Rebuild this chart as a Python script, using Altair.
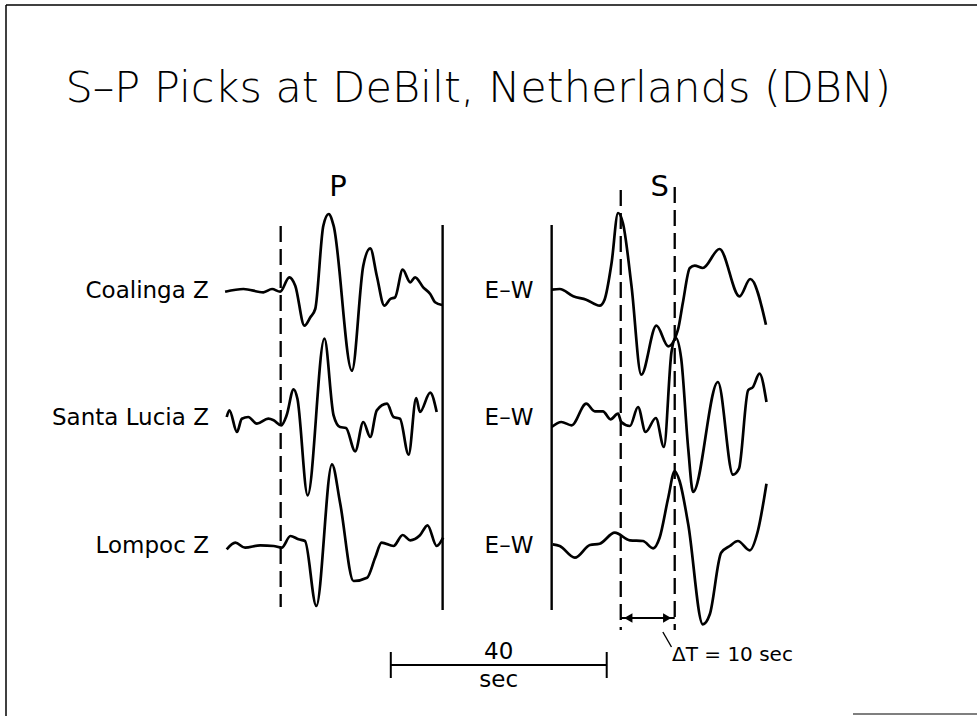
import altair as alt
import pandas as pd

# ---- seismogram samples -------------------------------------------------
# time in seconds after the phase pick, deflection in plot units (up = +)
# vertical (Z) records, aligned on the P pick
coalinga_z_t = [-10.3, -6.9, -3.2, -1.6, -0.1, 1.6, 2.7, 4.4, 5.5, 6.4, 7.9, 8.9, 9.8, 13.2,
                15.3, 16.6, 17.8, 19.2, 20.3, 21.2, 22.6, 24.0, 24.9, 26.4, 27.7, 28.6, 29.9]
coalinga_z_a = [-0.7, 2, -1.3, 2, -0.7, 13.7, 5.3, -34.7, -26.3, -18, 65.3, 77, 65.3, -79.7,
                25.3, 42.7, 15.3, -14.7, -8, -6.3, 21.3, 8.7, 13.7, 3.7, -3, -11.3, -14]

santa_lucia_z_t = [-10.0, -9.5, -8.1, -7.2, -6.0, -4.4, -2.3, -1.3, 0.1, 1.1, 2.4, 3.1, 5.0, 8.1,
                   9.8, 11.0, 12.1, 13.8, 15.3, 16.6, 17.8, 19.7, 20.9, 22.1, 23.7, 25.1, 25.8,
                   27.7, 28.9]
santa_lucia_z_a = [1, 7.7, -14, -0.7, 1, -5.7, -0.7, -2.3, -7.3, 2.7, 28.7, 19.3, -77.3, 79.3,
                   2.7, -9, -10, -33.3, -4, -19, 7.7, 14.3, 1, -0.7, -36.7, 20, 6, 25.3, 6]

lompoc_z_t = [-10.0, -8.4, -6.6, -3.8, -1.3, 0.2, 1.8, 3.3, 4.5, 6.6, 9.5, 11.0, 13.5, 16.0,
              17.5, 18.7, 20.9, 22.6, 24.0, 25.8, 27.2, 28.9, 30.1]
lompoc_z_a = [-3.3, 3.3, -1.7, 0.7, 0, -1.7, 10, 6.7, 5, -60, 81.7, 43.3, -35, -31.7,
              -11.7, 3.3, 0, 11, 5.7, 10.7, 20.7, 0, 8.3]

# horizontal (E-W) records, aligned on the S pick
coalinga_ew_t = [-12.8, -11.3, -8.8, -6.4, -3.9, -3.0, -1.7, -0.5, 0.4, 2.0, 3.8, 6.6, 8.8,
                 10.6, 11.5, 12.8, 13.7, 15.2, 18.3, 22.0, 24.0, 26.9]
coalinga_ew_a = [1.3, 2, -5.3, -8.7, -14.7, -8.7, 28, 78, 68, 4.7, -83.7, -34.7, -55.3,
                 -38.7, -12, 23, 25.3, 23, 42, -5.3, 12, -33.7]

santa_lucia_ew_t = [-12.8, -11.0, -9.1, -6.4, -4.8, -3.3, -1.9, -0.5, 0.1, 1.7, 3.2, 4.6, 6.5,
                    8.0, 9.4, 10.2, 11.2, 12.5, 13.4, 18.0, 20.8, 21.9, 23.6, 24.5, 25.7, 27.0]
santa_lucia_ew_a = [-9, -4, -7.3, 14.3, 6.7, 6.7, -1.3, 4.3, -4, -8, 11, -14, 0,
                    -29, 66, 80, 59.3, -30.7, -74, 36, -56.7, -50.7, 27.7, 31, 44.3, 16]

lompoc_ew_t = [-12.6, -11.3, -8.5, -5.7, -3.9, -1.1, 1.7, 4.1, 6.0, 7.2, 8.8, 10.0, 10.9,
               12.5, 15.2, 16.5, 18.6, 20.2, 21.7, 23.9, 25.4, 27.0]
lompoc_ew_a = [1.7, 0, -11.7, 1, 2.3, 13.3, 5.7, 5, -2.3, 8.3, 48.3, 75, 65,
               21.7, -78.3, -68.3, -6.7, 0, 5, -4.3, 15, 62.3]

stations = ["Coalinga Z", "Santa Lucia Z", "Lompoc Z"]
component = "E\u2013W"
window_z = [0, 30.0]        # P pick and end of the vertical-record window (s)
window_ew_start = -12.8     # start of the horizontal-record window, relative to S pick (s)
s_picks = [0, 10]           # the two S picks; their separation is the S-P anomaly
delta_t_label = "\u0394T = 10 sec"
scale_bar_seconds = 40

# ---- layout -------------------------------------------------------------
row_y = [291, 418, 546]     # baseline of each station row (px from top)
ew_shift = 63               # where the E-W panel sits on the shared time axis (s)
bar_start = 20.4            # left end of the time scale bar (s)

records = [
    (stations[0], "Z", coalinga_z_t, coalinga_z_a, 0),
    (stations[1], "Z", santa_lucia_z_t, santa_lucia_z_a, 1),
    (stations[2], "Z", lompoc_z_t, lompoc_z_a, 2),
    (stations[0], "EW", coalinga_ew_t, coalinga_ew_a, 0),
    (stations[1], "EW", santa_lucia_ew_t, santa_lucia_ew_a, 1),
    (stations[2], "EW", lompoc_ew_t, lompoc_ew_a, 2),
]
rows = []
for name, comp, ts, amps, r in records:
    shift = 0 if comp == "Z" else ew_shift
    for t, a in zip(ts, amps):
        rows.append({"trace": f"{name}-{comp}", "x": t + shift, "y": row_y[r] - a})
traces = pd.DataFrame(rows)

X = alt.Scale(domain=[-52, 129], nice=False, zero=False)
Y = alt.Scale(domain=[0, 716], reverse=True, nice=False, zero=False)


def xe(field="x"):
    return alt.X(f"{field}:Q", scale=X, axis=None)


def ye(field="y"):
    return alt.Y(f"{field}:Q", scale=Y, axis=None)


ink = "#000000"

trace_layer = alt.Chart(traces).mark_line(
    color=ink, strokeWidth=2.7, interpolate="monotone", strokeJoin="round"
).encode(x=xe(), y=ye(), detail="trace:N")

# window edges (solid) and phase picks (dashed)
solid_lines = pd.DataFrame({
    "x": [window_z[1], ew_shift + window_ew_start],
    "y": [225, 225], "y2": [610, 610],
})
dashed_lines = pd.DataFrame({
    "x": [window_z[0], ew_shift + s_picks[0], ew_shift + s_picks[1]],
    "y": [226, 190, 187], "y2": [607, 630, 630],
})
solid_layer = alt.Chart(solid_lines).mark_rule(color=ink, strokeWidth=2.4).encode(
    x=xe(), y=ye(), y2="y2:Q")
dashed_layer = alt.Chart(dashed_lines).mark_rule(
    color=ink, strokeWidth=2.3, strokeDash=[16, 7]).encode(x=xe(), y=ye(), y2="y2:Q")

# time scale bar
bar_h = pd.DataFrame({"x": [bar_start], "x2": [bar_start + scale_bar_seconds], "y": [665]})
bar_v = pd.DataFrame({"x": [bar_start, bar_start + scale_bar_seconds],
                      "y": [652, 652], "y2": [678, 678]})
bar_layer = alt.Chart(bar_h).mark_rule(color=ink, strokeWidth=2).encode(
    x=xe(), x2="x2:Q", y=ye())
bar_ends = alt.Chart(bar_v).mark_rule(color=ink, strokeWidth=2).encode(
    x=xe(), y=ye(), y2="y2:Q")

# double arrow between the S picks
arrow_h = pd.DataFrame({"x": [ew_shift + s_picks[0]], "x2": [ew_shift + s_picks[1]], "y": [618]})
arrow_layer = alt.Chart(arrow_h).mark_rule(color=ink, strokeWidth=2).encode(
    x=xe(), x2="x2:Q", y=ye())
heads = pd.DataFrame({
    "x": [ew_shift + s_picks[0] + 1.4, ew_shift + s_picks[1] - 1.4],
    "y": [618, 618],
    "shape": ["triangle-left", "triangle-right"],
})
head_layer = alt.Chart(heads).mark_point(filled=True, color=ink, size=90, opacity=1).encode(
    x=xe(), y=ye(),
    shape=alt.Shape("shape:N", scale=None, legend=None))

# leader from the arrow to the annotation
leader = pd.DataFrame({"x": [ew_shift + 7.8, ew_shift + 9.4], "y": [632, 647]})
leader_layer = alt.Chart(leader).mark_line(color=ink, strokeWidth=1.4).encode(x=xe(), y=ye())

FONT = "DejaVu Sans"

station_labels = pd.DataFrame({"x": [-13.3] * 3, "y": row_y, "text": stations})
component_labels = pd.DataFrame({"x": [42.3] * 3, "y": row_y, "text": [component] * 3})

row_labels = alt.Chart(station_labels).mark_text(
    font=FONT, fontSize=23, align="right", baseline="middle", color=ink
).encode(x=xe(), y=ye(), text="text:N")
ew_labels = alt.Chart(component_labels).mark_text(
    font=FONT, fontSize=23, align="center", baseline="middle", color=ink
).encode(x=xe(), y=ye(), text="text:N")

phase_labels = alt.Chart(pd.DataFrame({
    "x": [10.6, ew_shift + 7.2], "y": [187, 187], "text": ["P", "S"]
})).mark_text(font=FONT, fontSize=29, align="center", baseline="middle", color=ink).encode(
    x=xe(), y=ye(), text="text:N")

bar_text = alt.Chart(pd.DataFrame({
    "x": [bar_start + scale_bar_seconds / 2] * 2, "y": [652, 680],
    "text": [str(scale_bar_seconds), "sec"],
})).mark_text(font=FONT, fontSize=23, align="center", baseline="middle", color=ink).encode(
    x=xe(), y=ye(), text="text:N")

dt_text = alt.Chart(pd.DataFrame({
    "x": [ew_shift + 9.5], "y": [655], "text": [delta_t_label]
})).mark_text(font=FONT, fontSize=20, align="left", baseline="middle", color=ink).encode(
    x=xe(), y=ye(), text="text:N")

title_text = alt.Chart(pd.DataFrame({
    "x": [36.6], "y": [89], "text": ["S\u2013P Picks at DeBilt, Netherlands (DBN)"]
})).mark_text(font=FONT, fontSize=43, align="center", baseline="middle", color=ink,
              fontWeight=300).encode(x=xe(), y=ye(), text="text:N")

# page frame
frame_top = alt.Chart(pd.DataFrame({"k": [0]})).mark_rule(color=ink, strokeWidth=1.5).encode(
    x=alt.value(6), x2=alt.value(977), y=alt.value(5))
frame_left = alt.Chart(pd.DataFrame({"k": [0]})).mark_rule(color=ink, strokeWidth=1.5).encode(
    x=alt.value(6), y=alt.value(5), y2=alt.value(716))
frame_bottom = alt.Chart(pd.DataFrame({"k": [0]})).mark_rule(color="#555555", strokeWidth=1.5).encode(
    x=alt.value(853), x2=alt.value(977), y=alt.value(714))

chart = alt.layer(
    frame_top, frame_left, frame_bottom,
    solid_layer, dashed_layer, trace_layer,
    bar_layer, bar_ends, arrow_layer, head_layer, leader_layer,
    row_labels, ew_labels, phase_labels, bar_text, dt_text, title_text,
).properties(
    width=977, height=716,
    autosize=alt.AutoSizeParams(type="none"),
    padding=0,
    background="white",
).configure_view(stroke=None)

chart.save("out.html", embed_options={"renderer": "svg", "actions": False})
